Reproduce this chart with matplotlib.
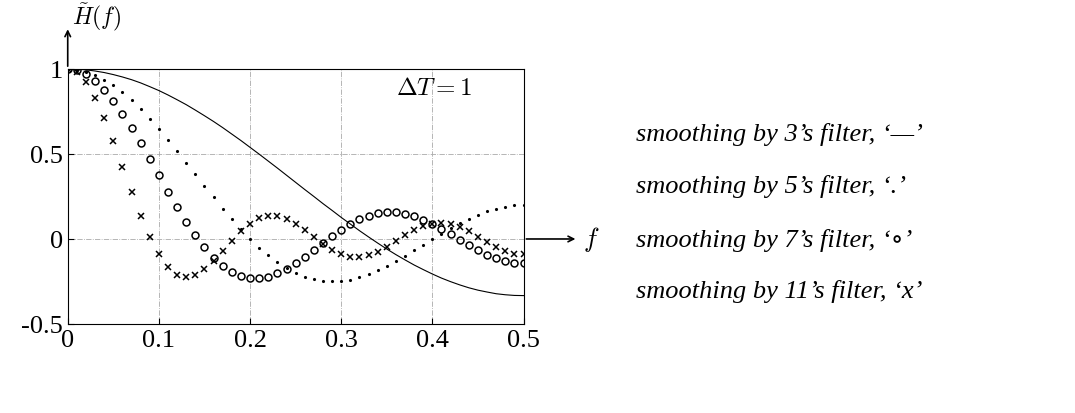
import matplotlib
matplotlib.use("Agg")
import matplotlib.pyplot as plt

f = [i/100 for i in range(51)]
h3 = [1,0.999,0.995,0.988,0.979,0.967,0.953,0.937,0.918,0.896,0.873,0.847,0.819,0.790,0.758,0.725,0.691,0.655,0.617,0.579,0.539,0.499,0.458,0.417,0.375,0.333,0.291,0.250,0.208,0.168,0.127,0.088,0.049,0.012,-0.024,-0.059,-0.092,-0.123,-0.153,-0.180,-0.206,-0.230,-0.251,-0.270,-0.287,-0.301,-0.312,-0.322,-0.328,-0.332,-0.333]
h5 = [1,0.996,0.984,0.965,0.938,0.904,0.864,0.817,0.765,0.708,0.647,0.583,0.517,0.449,0.380,0.312,0.244,0.178,0.115,0.056,0.0,-0.051,-0.097,-0.137,-0.172,-0.2,-0.222,-0.238,-0.247,-0.250,-0.247,-0.239,-0.225,-0.207,-0.185,-0.159,-0.130,-0.099,-0.066,-0.033,0.0,0.032,0.064,0.093,0.120,0.143,0.163,0.179,0.191,0.198,0.2]
h7 = [1,0.992,0.969,0.930,0.878,0.814,0.738,0.655,0.564,0.470,0.374,0.279,0.187,0.100,0.021,-0.049,-0.109,-0.158,-0.194,-0.219,-0.231,-0.232,-0.222,-0.203,-0.176,-0.143,-0.105,-0.065,-0.023,0.017,0.055,0.088,0.116,0.137,0.151,0.158,0.158,0.149,0.135,0.114,0.088,0.059,0.028,-0.005,-0.036,-0.066,-0.092,-0.113,-0.130,-0.139,-0.143]
h11 = [1,0.981,0.923,0.832,0.713,0.574,0.425,0.276,0.135,0.010,-0.091,-0.165,-0.209,-0.223,-0.212,-0.178,-0.129,-0.071,-0.011,0.045,0.091,0.123,0.138,0.137,0.120,0.091,0.053,0.011,-0.029,-0.065,-0.091,-0.106,-0.107,-0.097,-0.076,-0.046,-0.013,0.022,0.052,0.076,0.091,0.095,0.087,0.070,0.045,0.014,-0.017,-0.046,-0.070,-0.086,-0.091]
legend_labels = ["smoothing by 3\u2019s filter, \u2018\u2014\u2019",
                 "smoothing by 5\u2019s filter, \u2018.\u2019",
                 "smoothing by 7\u2019s filter, \u2018\u2218\u2019",
                 "smoothing by 11\u2019s filter, \u2018x\u2019"]

plt.rcParams['font.family'] = ['Liberation Serif', 'DejaVu Serif']
plt.rcParams['mathtext.fontset'] = 'cm'
fig = plt.figure(figsize=(10.75, 4.14), dpi=100)
ax = fig.add_axes([0.063, 0.215, 0.424, 0.616])
ax.plot(f, h3, color='black', lw=0.8)
ax.plot(f, h5, color='black', ls='none', marker='.', ms=2.5)
ax.plot(f, h7, color='black', ls='none', marker='o', ms=5, mfc='none', mew=1.1)
ax.plot(f, h11, color='black', ls='none', marker='x', ms=5, mew=1.1)
ax.set_xlim(0, 0.5)
ax.set_ylim(-0.5, 1.0)
ax.set_xticks([0, 0.1, 0.2, 0.3, 0.4, 0.5])
ax.set_xticklabels(['0', '0.1', '0.2', '0.3', '0.4', '0.5'])
ax.set_yticks([-0.5, 0, 0.5, 1])
ax.set_yticklabels(['-0.5', '0', '0.5', '1'])
ax.tick_params(labelsize=19, direction='in', length=4)
ax.grid(True, ls='-.', color='#aaaaaa', lw=0.6)
ax.text(0.36, 0.85, r'$\Delta T = 1$', fontsize=18)
ax.annotate('', xy=(0.0, 1.25), xytext=(0.0, 1.0), xycoords='data',
            arrowprops=dict(arrowstyle='->', lw=1.2), annotation_clip=False)
ax.annotate('', xy=(0.56, 0.0), xytext=(0.5, 0.0),
            arrowprops=dict(arrowstyle='->', lw=1.2), annotation_clip=False)
ax.text(0.005, 1.22, r'$\tilde{H}(f)$', fontsize=17, ha='left', va='bottom')
ax.text(0.565, 0.0, r'$f$', fontsize=19, va='center')
ys = [0.675, 0.55, 0.42, 0.295]
for lab, y in zip(legend_labels, ys):
    fig.text(0.592, y, lab, fontsize=19, style='italic', va='center')
fig.savefig('out.png', dpi=100)
